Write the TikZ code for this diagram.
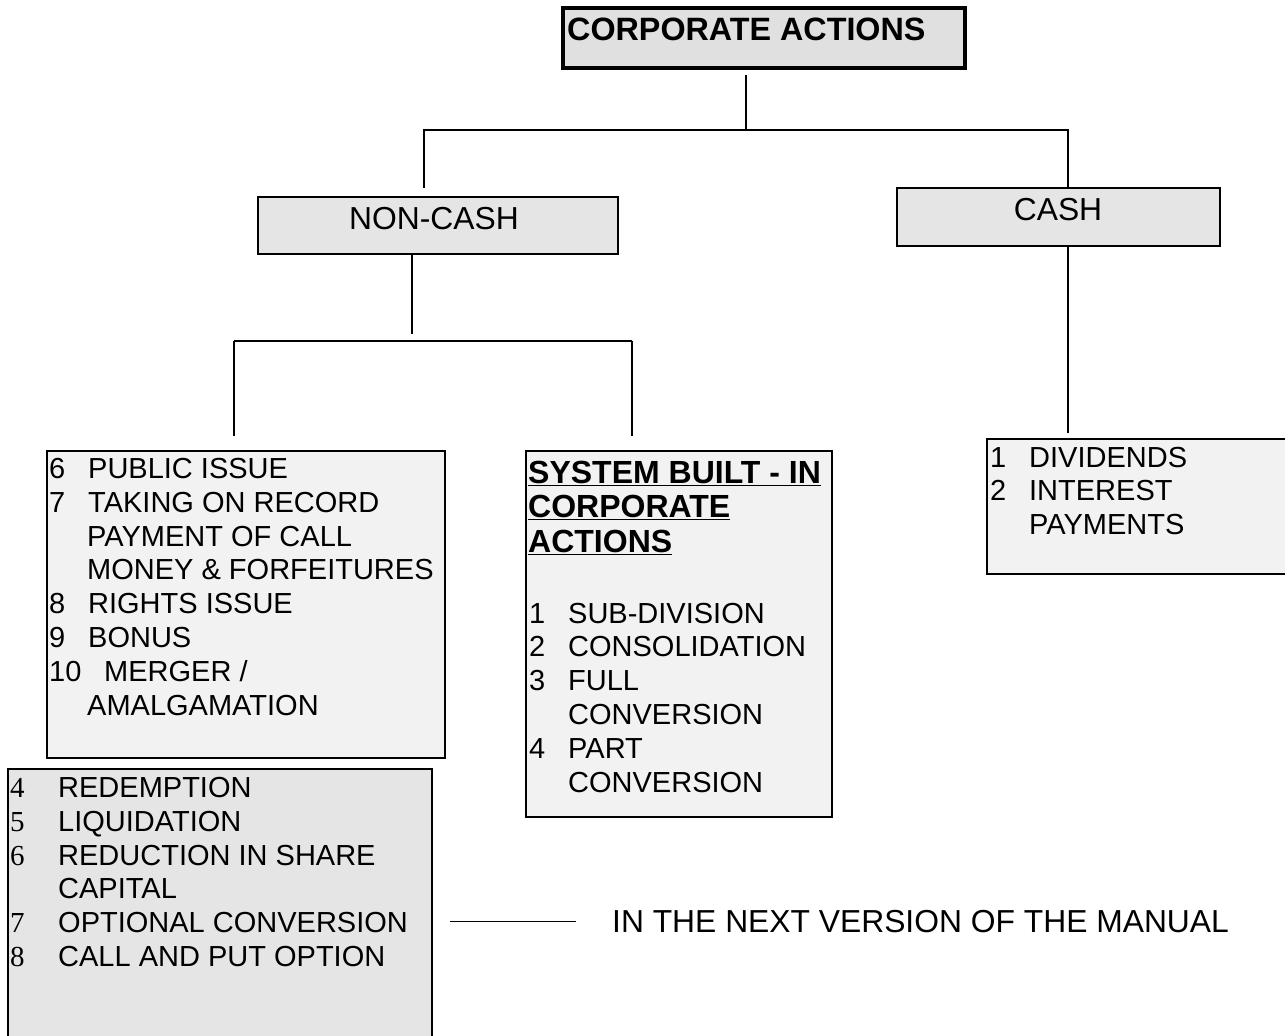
\documentclass[tikz,border=0pt]{standalone}
\usepackage{fontspec}
\setmainfont{Liberation Sans}
\newfontfamily\tnrfont{Liberation Serif}
\usepackage{graphicx}
\definecolor{fillA}{RGB}{224,224,224}
\definecolor{fillB}{RGB}{229,229,229}
\definecolor{fillC}{RGB}{242,242,242}
\newcommand\numcol[2]{\makebox[#1][l]{#2}}
\begin{document}
\begin{tikzpicture}[x=1pt,y=-1pt,
  boxnode/.style={draw, line width=1.7pt, anchor=north west, inner sep=0pt, outer sep=0pt},
  listtxt/.style={anchor=base west, inner sep=0pt, font=\fontsize{29}{33.8}\selectfont},
  headtxt/.style={inner sep=0pt, font=\fontsize{31.8}{36}\selectfont},
  link/.style={line width=1.6pt},
  thicklink/.style={line width=2.8pt}]
\useasboundingbox (0,0) rectangle (1285,1036);

% boxes
\node[boxnode, line width=3.8pt, fill=fillA, minimum width=402pt, minimum height=60pt] (top) at (563,8) {};
\node[boxnode, fill=fillB, minimum width=360pt, minimum height=57pt] (noncash) at (258,197) {};
\node[boxnode, fill=fillB, minimum width=323pt, minimum height=58pt] (cash) at (897,188) {};
\node[boxnode, fill=fillC, minimum width=398pt, minimum height=307pt] (list1) at (47,451) {};
\node[boxnode, fill=fillC, minimum width=306pt, minimum height=366pt] (list2) at (526,451) {};
\node[boxnode, fill=fillC, minimum width=320pt, minimum height=135pt] (list3) at (987,439) {};
\node[boxnode, fill=fillB, minimum width=424pt, minimum height=290pt] (list4) at (8,769) {};

% titles
\node[headtxt, anchor=base west, font=\bfseries\fontsize{32.3}{36}\selectfont] (toptxt) at (567,40) {CORPORATE ACTIONS};
\node[headtxt, anchor=base] (nctxt) at (434,229) {NON-CASH};
\node[headtxt, anchor=base] (ctxt) at (1058,220) {CASH};

% list texts
\node[listtxt] (l1txt) at (49,478.5) {\begin{tabular}[t]{@{}l@{}}
\numcol{39pt}{6}PUBLIC ISSUE\\
\numcol{39pt}{7}TAKING ON RECORD\\
\hspace*{38pt}PAYMENT OF CALL\\
\hspace*{38pt}MONEY \& FORFEITURES\\
\numcol{39pt}{8}RIGHTS ISSUE\\
\numcol{39pt}{9}BONUS\\
\numcol{55pt}{10}MERGER /\\
\hspace*{38pt}AMALGAMATION
\end{tabular}};

\node[anchor=base west, inner sep=0pt, font=\bfseries\fontsize{32}{34.5}\selectfont] (l2head) at (528,483) {\begin{tabular}[t]{@{}l@{}}
\underline{SYSTEM BUILT - IN}\\
\underline{CORPORATE}\\
\underline{ACTIONS}
\end{tabular}};

\node[listtxt] (l2txt) at (529,623) {\begin{tabular}[t]{@{}l@{}}
\numcol{39pt}{1}SUB-DIVISION\\
\numcol{39pt}{2}CONSOLIDATION\\
\numcol{39pt}{3}FULL\\
\hspace*{39pt}CONVERSION\\
\numcol{39pt}{4}PART\\
\hspace*{39pt}CONVERSION
\end{tabular}};

\node[listtxt] (l3txt) at (990,467) {\begin{tabular}[t]{@{}l@{}}
\numcol{39pt}{1}DIVIDENDS\\
\numcol{39pt}{2}INTEREST\\
\hspace*{39pt}PAYMENTS
\end{tabular}};

\node[listtxt] (l4txt) at (10,797.5) {\begin{tabular}[t]{@{}l@{}}
\numcol{48pt}{\tnrfont 4}REDEMPTION\\
\numcol{48pt}{\tnrfont 5}LIQUIDATION\\
\numcol{48pt}{\tnrfont 6}REDUCTION IN SHARE\\
\hspace*{48pt}CAPITAL\\
\numcol{48pt}{\tnrfont 7}OPTIONAL CONVERSION\\
\numcol{48pt}{\tnrfont 8}CALL AND PUT OPTION
\end{tabular}};

\node[headtxt, anchor=base west] (note) at (612,932.5) {IN THE NEXT VERSION OF THE MANUAL};

% connectors
\coordinate (j1) at (746,130);
\coordinate (ncj) at (424,130);
\coordinate (cj) at (1068,130);
\coordinate (j2) at (412,341);
\coordinate (bl) at (234,341);
\coordinate (br) at (632,341);

\draw[thicklink, shorten <=7pt] (j1 |- top.south) -- (j1);
\draw[link, shorten <=9pt] (ncj |- noncash.north) -- (ncj) -- (cj) -- (cj |- cash.north);
\draw[thicklink, shorten >=7pt] (j2 |- noncash.south) -- (j2);
\draw[thicklink] (bl) -- (br);
\draw[link, shorten <=15pt] (bl |- list1.north) -- (bl);
\draw[link, shorten <=15pt] (br |- list2.north) -- (br);
\draw[link, shorten >=6pt] (cj |- cash.south) -- (cj |- list3.north);
\draw[link, shorten <=18pt, shorten >=36pt] (list4.east |- note.west) -- (note.west);
\end{tikzpicture}
\end{document}
